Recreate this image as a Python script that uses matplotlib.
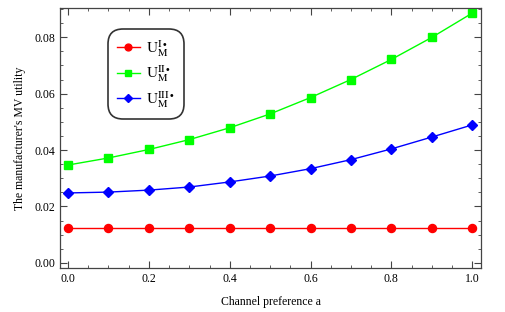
import numpy as np
import matplotlib
matplotlib.use("Agg")
import matplotlib.pyplot as plt
from matplotlib.ticker import MultipleLocator, FormatStrFormatter

plt.rcParams['font.family'] = ['Liberation Serif', 'DejaVu Serif']
plt.rcParams['mathtext.fontset'] = 'stix'

# Data
a = [0.0, 0.1, 0.2, 0.3, 0.4, 0.5, 0.6, 0.7, 0.8, 0.9, 1.0]
u1 = [0.0124] * 11
u2 = [0.0347, 0.0372, 0.0402, 0.0437, 0.0479, 0.0528, 0.0586, 0.0650, 0.0721, 0.0799, 0.0885]
u3 = [0.0248, 0.0251, 0.0258, 0.0269, 0.0287, 0.0308, 0.0334, 0.0366, 0.0404, 0.0446, 0.0489]

labels = [r'$\mathrm{U}_\mathrm{M}^{\mathrm{I}\bullet}$',
          r'$\mathrm{U}_\mathrm{M}^{\mathrm{II}\bullet}$',
          r'$\mathrm{U}_\mathrm{M}^{\mathrm{III}\bullet}$']

fig = plt.figure(figsize=(5.06, 3.12), dpi=100)
ax = fig.add_axes([0.1186, 0.141, 0.832, 0.833])

ax.plot(a, u1, color='#ff0000', marker='o', markersize=5.8, lw=1, label=labels[0])
ax.plot(a, u2, color='#00ff00', marker='s', markersize=5.2, lw=1, label=labels[1])
ax.plot(a, u3, color='#0000ff', marker='D', markersize=4.8, lw=1, label=labels[2])

ax.set_xlim(-0.02, 1.022)
ax.set_ylim(-0.0018, 0.0903)
ax.xaxis.set_major_locator(MultipleLocator(0.2))
ax.xaxis.set_minor_locator(MultipleLocator(0.05))
ax.yaxis.set_major_locator(MultipleLocator(0.02))
ax.yaxis.set_minor_locator(MultipleLocator(0.005))
ax.xaxis.set_major_formatter(FormatStrFormatter('%.1f'))
ax.yaxis.set_major_formatter(FormatStrFormatter('%.2f'))
ax.tick_params(which='both', direction='in', top=True, right=True, labelsize=8.5, color='#444444')
ax.tick_params(which='major', length=5)
ax.tick_params(which='minor', length=2.5)
for s in ax.spines.values():
    s.set_color('#444444')
    s.set_linewidth(0.9)

ax.set_xlabel('Channel preference a', fontsize=8.5, labelpad=8)
ax.set_ylabel("The manufacturer's MV utility", fontsize=8.5, labelpad=6)

leg = ax.legend(loc='upper left', bbox_to_anchor=(0.100, 0.943), fontsize=11,
                frameon=True, fancybox=True, edgecolor='black', handlelength=1.45,
                handletextpad=0.45, labelspacing=0.3, borderpad=0.5, markerscale=0.85)
leg.get_frame().set_linewidth(1.2)
leg.get_frame().set_boxstyle('round', pad=0.1, rounding_size=1.0)

fig.savefig('out.png', dpi=100)
